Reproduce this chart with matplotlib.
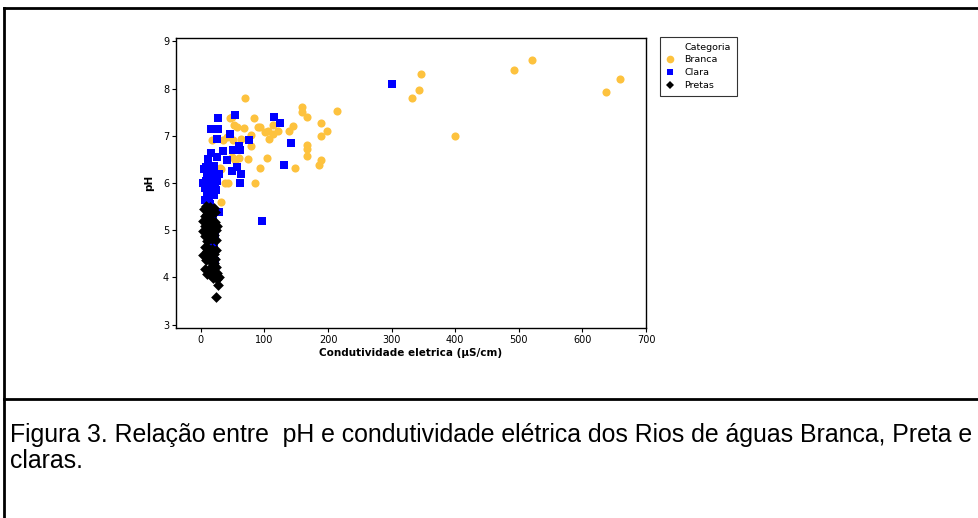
import matplotlib
matplotlib.use("Agg")
import matplotlib.pyplot as plt
from matplotlib.lines import Line2D

# ---------------- data ----------------
branca_x = [332, 343, 347, 400, 492, 520, 637, 659,
            159, 159, 167, 189, 198, 189, 214, 167, 167, 167, 189, 186,
            93, 101, 107, 113, 121, 113, 105, 138, 145, 104, 148, 93,
            69, 46, 83, 57, 68, 90, 49, 52, 63, 79, 17, 35, 50, 79, 74, 53,
            49, 30, 14, 31, 38, 42, 85, 31, 60, 41]
branca_y = [7.81, 7.96, 8.30, 7.00, 8.39, 8.60, 7.92, 8.20,
            7.60, 7.50, 7.39, 7.26, 7.11, 6.99, 7.52, 6.80, 6.71, 6.58, 6.48, 6.39,
            7.18, 7.07, 6.94, 7.22, 7.11, 7.03, 7.11, 7.11, 7.20, 6.52, 6.31, 6.31,
            7.79, 7.37, 7.37, 7.18, 7.16, 7.18, 7.39, 7.22, 6.94, 7.01, 6.90, 6.90, 6.90, 6.78, 6.50, 6.48,
            6.54, 6.31, 6.12, 6.29, 5.99, 5.99, 5.99, 5.59, 6.52, 6.97]

clara_x = [300, 97, 115, 124, 142, 131,
           27, 53, 16, 27, 25, 46, 75, 50, 60, 61, 16, 35, 25, 11, 41, 57, 8, 19, 49, 63, 61, 28,
           5, 10, 15, 20, 25, 8, 14, 18, 22, 6, 12, 16, 9, 13, 7, 11, 15, 26, 28, 24, 20, 10, 4, 17, 21,
           22, 18, 20, 22, 23, 19, 23, 15]
clara_y = [8.09, 5.19, 7.39, 7.28, 6.84, 6.39,
           7.37, 7.43, 7.14, 7.14, 6.94, 7.03, 6.92, 6.69, 6.78, 6.69, 6.63, 6.67, 6.56, 6.50, 6.48, 6.33, 6.33, 6.22, 6.25, 6.18, 6.00, 5.38,
           6.30, 6.25, 6.20, 6.15, 6.10, 6.05, 6.00, 5.95, 5.92, 5.90, 5.85, 5.80, 5.75, 5.70, 5.65, 5.60, 5.55, 6.05, 6.20, 5.85, 6.35, 6.15, 6.00, 6.10, 5.75,
           5.12, 4.95, 4.64, 4.11, 4.35, 5.30, 4.90, 5.10]

pretas_x = [8, 14, 20, 5, 11, 17, 23, 9, 15, 6,
            12, 18, 4, 22, 9, 15, 26, 6, 12, 19, 24, 3, 10, 16, 21, 7, 13, 18, 24, 10,
            6, 12, 18, 24, 9, 15, 21, 4, 11, 17, 23, 8, 14, 20,
            18, 24, 7, 13, 20, 26, 10, 16, 22, 28, 19, 25,
            27, 24]
pretas_y = [5.52, 5.50, 5.48, 5.45, 5.42, 5.40, 5.38, 5.35, 5.33, 5.30,
            5.25, 5.22, 5.20, 5.18, 5.15, 5.12, 5.10, 5.08, 5.05, 5.02, 5.00, 4.98, 4.95, 4.93, 4.90, 4.88, 4.85, 4.82, 4.80, 4.77,
            4.65, 4.62, 4.60, 4.58, 4.55, 4.52, 4.50, 4.48, 4.45, 4.42, 4.40, 4.37, 4.34, 4.31,
            4.25, 4.22, 4.18, 4.15, 4.12, 4.10, 4.08, 4.06, 4.04, 4.02, 3.98, 3.96,
            3.83, 3.58]

x_ticks = [0, 100, 200, 300, 400, 500, 600, 700]
y_ticks = [3, 4, 5, 6, 7, 8, 9]
categories = ["Branca", "Clara", "Pretas"]

# ---------------- figure ----------------
W, H = 979, 518
fig = plt.figure(figsize=(W / 100, H / 100), dpi=100)
fig.patch.set_facecolor("white")

ax = fig.add_axes([176 / W, 1 - 328 / H, (646 - 176) / W, (328 - 38) / H])

c_branca = "#FDC23E"
c_clara = "#0000FF"
c_pretas = "#000000"

ax.scatter(branca_x, branca_y, s=34, marker="o", color=c_branca, linewidths=0, zorder=3)
ax.scatter(clara_x, clara_y, s=30, marker="s", color=c_clara, linewidths=0, zorder=4)
ax.scatter(pretas_x, pretas_y, s=30, marker="D", color=c_pretas, linewidths=0, zorder=5)

ax.set_xlim(-39, 700)
ax.set_ylim(2.93, 9.07)
ax.set_xticks(x_ticks)
ax.set_yticks(y_ticks)
ax.tick_params(direction="out", length=3, width=0.8, labelsize=7, pad=2, colors="black")
for sp in ax.spines.values():
    sp.set_linewidth(1.0)
    sp.set_color("black")

ax.set_xlabel("Condutividade eletrica (µS/cm)", fontsize=7.5, fontweight="bold", labelpad=2)
ax.set_ylabel("pH", fontsize=7.5, fontweight="bold", labelpad=6)

# legend
blank = Line2D([], [], linestyle="none", marker=None)
hb = Line2D([], [], linestyle="none", marker="o", color=c_branca, markersize=5.5, markeredgewidth=0)
hc = Line2D([], [], linestyle="none", marker="s", color=c_clara, markersize=5, markeredgewidth=0)
hp = Line2D([], [], linestyle="none", marker="D", color=c_pretas, markersize=4.5, markeredgewidth=0)
leg = fig.legend([blank, hb, hc, hp], ["Categoria"] + categories,
                 loc="upper left", bbox_to_anchor=(660 / W, 1 - 37 / H),
                 fontsize=6.8, frameon=True, fancybox=False, edgecolor="black",
                 handlelength=1.0, handletextpad=1.0, borderpad=0.6,
                 labelspacing=0.4, borderaxespad=0)
leg.get_frame().set_linewidth(0.8)

# document frame lines
lw = 2.0
fig.add_artist(Line2D([4 / W, 1], [1 - 8 / H, 1 - 8 / H], color="black", lw=lw, transform=fig.transFigure))
fig.add_artist(Line2D([4 / W, 4 / W], [0, 1 - 8 / H], color="black", lw=lw, transform=fig.transFigure))
fig.add_artist(Line2D([4 / W, 1], [1 - 399 / H, 1 - 399 / H], color="black", lw=lw, transform=fig.transFigure))

# caption
fig.text(10 / W, 1 - 435 / H, "Figura 3. Relação entre  pH e condutividade elétrica dos Rios de águas Branca, Preta e",
         fontsize=17.95, family="Liberation Sans", va="center", ha="left")
fig.text(10 / W, 1 - 461 / H, "claras.", fontsize=17.95, family="Liberation Sans", va="center", ha="left")

fig.savefig("out.png", dpi=100)
